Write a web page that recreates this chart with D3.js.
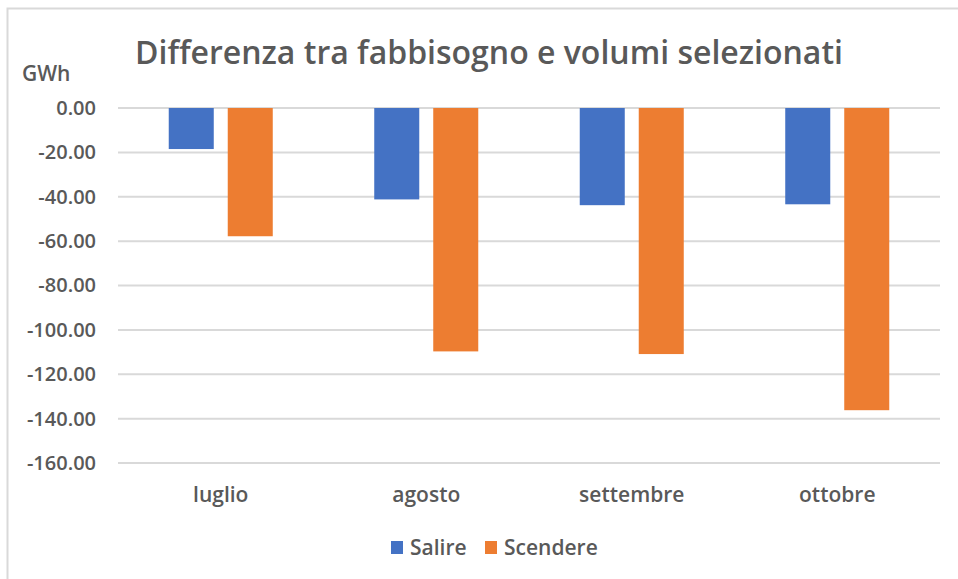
<!DOCTYPE html>
<html>
<head>
<meta charset="utf-8">
<script src="https://cdn.jsdelivr.net/npm/d3@7"></script>
<style>
  body { margin: 0; background: #fff; }
  svg { display: block; font-family: "Open Sans", Lato, sans-serif; }
  .tick text { fill: #595959; }
</style>
</head>
<body>
<svg id="chart" width="958" height="579"></svg>
<script>
const months = ['luglio', 'agosto', 'settembre', 'ottobre'];
const seriesNames = ['Salire', 'Scendere'];
const salire = [-18.5, -41.2, -43.8, -43.4];
const scendere = [-57.8, -109.7, -110.9, -136.2];
const yTicks = [0, -20, -40, -60, -80, -100, -120, -140, -160];
const colors = ['#4472C4', '#ED7D31'];

const width = 958, height = 579;
const margin = { top: 108, right: 18, bottom: 116, left: 118 };
const font = '"Open Sans", sans-serif';

const svg = d3.select('#chart');

// chart frame
svg.append('rect')
  .attr('x', 7.5).attr('y', 8.5)
  .attr('width', 970).attr('height', 600)
  .attr('fill', '#fff')
  .attr('stroke', '#D9D9D9')
  .attr('stroke-width', 2);

const x0 = d3.scaleBand()
  .domain(months)
  .range([margin.left, width - margin.right]);

const x1 = d3.scaleBand()
  .domain(seriesNames)
  .range([0, x0.bandwidth()])
  .paddingInner(0.237)
  .paddingOuter(0.86);

const y = d3.scaleLinear()
  .domain([-160, 0])
  .range([height - margin.bottom, margin.top]);

// gridlines
svg.append('g')
  .selectAll('line')
  .data(yTicks)
  .join('line')
  .attr('x1', margin.left)
  .attr('x2', width - margin.right)
  .attr('y1', d => y(d))
  .attr('y2', d => y(d))
  .attr('stroke', '#D9D9D9')
  .attr('stroke-width', 2);

// y axis labels
const yAxis = d3.axisLeft(y)
  .tickValues(yTicks)
  .tickFormat(d => d.toFixed(2))
  .tickSize(0)
  .tickPadding(22);

svg.append('g')
  .attr('transform', `translate(${margin.left},0)`)
  .call(yAxis)
  .call(g => g.select('.domain').remove())
  .selectAll('text')
  .attr('font-size', 20)
  .attr('font-weight', 600)
  .attr('font-family', font);

// bars
const rows = months.map((m, i) => ({ month: m, values: [salire[i], scendere[i]] }));

svg.append('g')
  .selectAll('g')
  .data(rows)
  .join('g')
  .attr('transform', d => `translate(${x0(d.month)},0)`)
  .selectAll('rect')
  .data(d => d.values.map((v, i) => ({ key: seriesNames[i], value: v, i })))
  .join('rect')
  .attr('x', d => x1(d.key))
  .attr('width', x1.bandwidth())
  .attr('y', y(0))
  .attr('height', d => y(d.value) - y(0))
  .attr('fill', d => colors[d.i]);

// x axis labels
const xAxis = d3.axisBottom(x0).tickSize(0).tickPadding(24);
svg.append('g')
  .attr('transform', `translate(0,${y(-160)})`)
  .call(xAxis)
  .call(g => g.select('.domain').remove())
  .selectAll('text')
  .attr('font-size', 21)
  .attr('font-weight', 600)
  .attr('font-family', font);

// title
svg.append('text')
  .attr('x', 489)
  .attr('y', 64)
  .attr('text-anchor', 'middle')
  .attr('fill', '#595959')
  .attr('font-size', 32)
  .attr('font-weight', 600)
  .text('Differenza tra fabbisogno e volumi selezionati');

// unit label
svg.append('text')
  .attr('x', 22)
  .attr('y', 81)
  .attr('fill', '#595959')
  .attr('font-size', 21)
  .attr('font-weight', 600)
  .text('GWh');

// legend
const legend = svg.append('g').attr('transform', 'translate(391,541)');
const legendX = [0, 94];
seriesNames.forEach((name, i) => {
  const g = legend.append('g').attr('transform', `translate(${legendX[i]},0)`);
  g.append('rect')
    .attr('width', 12).attr('height', 13)
    .attr('fill', colors[i]);
  g.append('text')
    .attr('x', 19).attr('y', 14)
    .attr('fill', '#595959')
    .attr('font-size', 21)
    .attr('font-weight', 600)
    .text(name);
});
</script>
</body>
</html>
